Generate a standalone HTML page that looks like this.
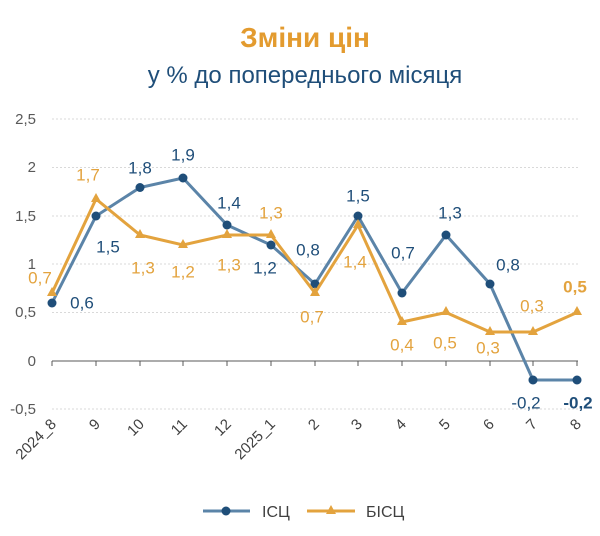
<!DOCTYPE html><html><head><meta charset="utf-8"><style>body{margin:0;background:#fff}</style></head><body>
<svg width="600" height="531" xmlns="http://www.w3.org/2000/svg" font-family="Liberation Sans, sans-serif">
<text x="305" y="47" text-anchor="middle" font-size="28" font-weight="bold" fill="#e39b2f">Зміни цін</text>
<text x="305" y="83" text-anchor="middle" font-size="24" fill="#1f4e79">у % до попереднього місяця</text>
<g stroke="#d9d9d9" stroke-dasharray="2,2" stroke-width="1">
<line x1="52" x2="578" y1="119" y2="119"/><line x1="52" x2="578" y1="167.5" y2="167.5"/><line x1="52" x2="578" y1="216" y2="216"/><line x1="52" x2="578" y1="264" y2="264"/><line x1="52" x2="578" y1="312.5" y2="312.5"/><line x1="52" x2="578" y1="409" y2="409"/></g>
<g font-size="15" fill="#595959" text-anchor="end">
<text x="36" y="124">2,5</text><text x="36" y="172">2</text><text x="36" y="221">1,5</text><text x="36" y="269">1</text><text x="36" y="317">0,5</text><text x="36" y="366">0</text><text x="36" y="414">-0,5</text></g>
<g stroke="#595959"><line x1="52" x2="578" y1="361" y2="361"/>
<path d="M52 361v5M96 361v5M140 361v5M183 361v5M227 361v5M271 361v5M315 361v5M358 361v5M402 361v5M446 361v5M490 361v5M533 361v5M577 361v5"/></g>
<g font-size="15" fill="#404040" text-anchor="end">
<text transform="translate(57,425) rotate(-45)">2024_8</text><text transform="translate(101,425) rotate(-45)">9</text><text transform="translate(145,425) rotate(-45)">10</text><text transform="translate(188,425) rotate(-45)">11</text><text transform="translate(232,425) rotate(-45)">12</text><text transform="translate(276,425) rotate(-45)">2025_1</text><text transform="translate(320,425) rotate(-45)">2</text><text transform="translate(363,425) rotate(-45)">3</text><text transform="translate(407,425) rotate(-45)">4</text><text transform="translate(451,425) rotate(-45)">5</text><text transform="translate(495,425) rotate(-45)">6</text><text transform="translate(538,425) rotate(-45)">7</text><text transform="translate(582,425) rotate(-45)">8</text></g>
<polyline fill="none" stroke="#5b84a8" stroke-width="3" points="52,303 96,216 140,187.5 183,178 227,225 271,245 315,284 358,216 402,293 446,235 490,284 533,380 577,380"/>
<g fill="#1f4e79"><circle cx="52" cy="303" r="4.5"/><circle cx="96" cy="216" r="4.5"/><circle cx="140" cy="187.5" r="4.5"/><circle cx="183" cy="178" r="4.5"/><circle cx="227" cy="225" r="4.5"/><circle cx="271" cy="245" r="4.5"/><circle cx="315" cy="284" r="4.5"/><circle cx="358" cy="216" r="4.5"/><circle cx="402" cy="293" r="4.5"/><circle cx="446" cy="235" r="4.5"/><circle cx="490" cy="284" r="4.5"/><circle cx="533" cy="380" r="4.5"/><circle cx="577" cy="380" r="4.5"/></g>
<polyline fill="none" stroke="#e3a33e" stroke-width="3" points="52,293 96,199 140,235 183,245 227,235 271,235 315,293 358,225 402,322 446,312.5 490,332 533,332 577,312.5"/>
<g fill="#e3a33e">
<path d="M52 287l5 9h-10zM96 193l5 9h-10zM140 229l5 9h-10zM183 239l5 9h-10zM227 229l5 9h-10zM271 229l5 9h-10zM315 287l5 9h-10zM358 219l5 9h-10zM402 316l5 9h-10zM446 306l5 9h-10zM490 326l5 9h-10zM533 326l5 9h-10zM577 306l5 9h-10z"/></g>
<g font-size="17" fill="#1f4e79" text-anchor="middle" dominant-baseline="central">
<text x="82" y="303">0,6</text><text x="108" y="247">1,5</text><text x="140" y="168">1,8</text><text x="183" y="155">1,9</text><text x="229" y="203">1,4</text><text x="265" y="268">1,2</text><text x="308" y="250">0,8</text><text x="358" y="196">1,5</text><text x="403" y="253">0,7</text><text x="450" y="213">1,3</text><text x="508" y="265">0,8</text><text x="526" y="403">-0,2</text><text x="578" y="403" font-weight="bold">-0,2</text></g>
<g font-size="17" fill="#e3a33e" text-anchor="middle" dominant-baseline="central">
<text x="40" y="278">0,7</text><text x="88" y="175">1,7</text><text x="143" y="268">1,3</text><text x="183" y="272">1,2</text><text x="229" y="265">1,3</text><text x="271" y="213">1,3</text><text x="312" y="317">0,7</text><text x="355" y="262">1,4</text><text x="402" y="345">0,4</text><text x="445" y="343">0,5</text><text x="488" y="348">0,3</text><text x="532" y="306">0,3</text><text x="575" y="287" font-weight="bold">0,5</text></g>
<line x1="203" x2="250" y1="511" y2="511" stroke="#5b84a8" stroke-width="3"/><circle cx="226" cy="511" r="4.5" fill="#1f4e79"/>
<text x="262" y="517" font-size="16" fill="#404040">ІСЦ</text>
<line x1="307" x2="355" y1="511" y2="511" stroke="#e3a33e" stroke-width="3"/><path d="M331 505l5 9h-10z" fill="#e3a33e"/>
<text x="366" y="517" font-size="16" fill="#404040">БІСЦ</text>
</svg></body></html>
